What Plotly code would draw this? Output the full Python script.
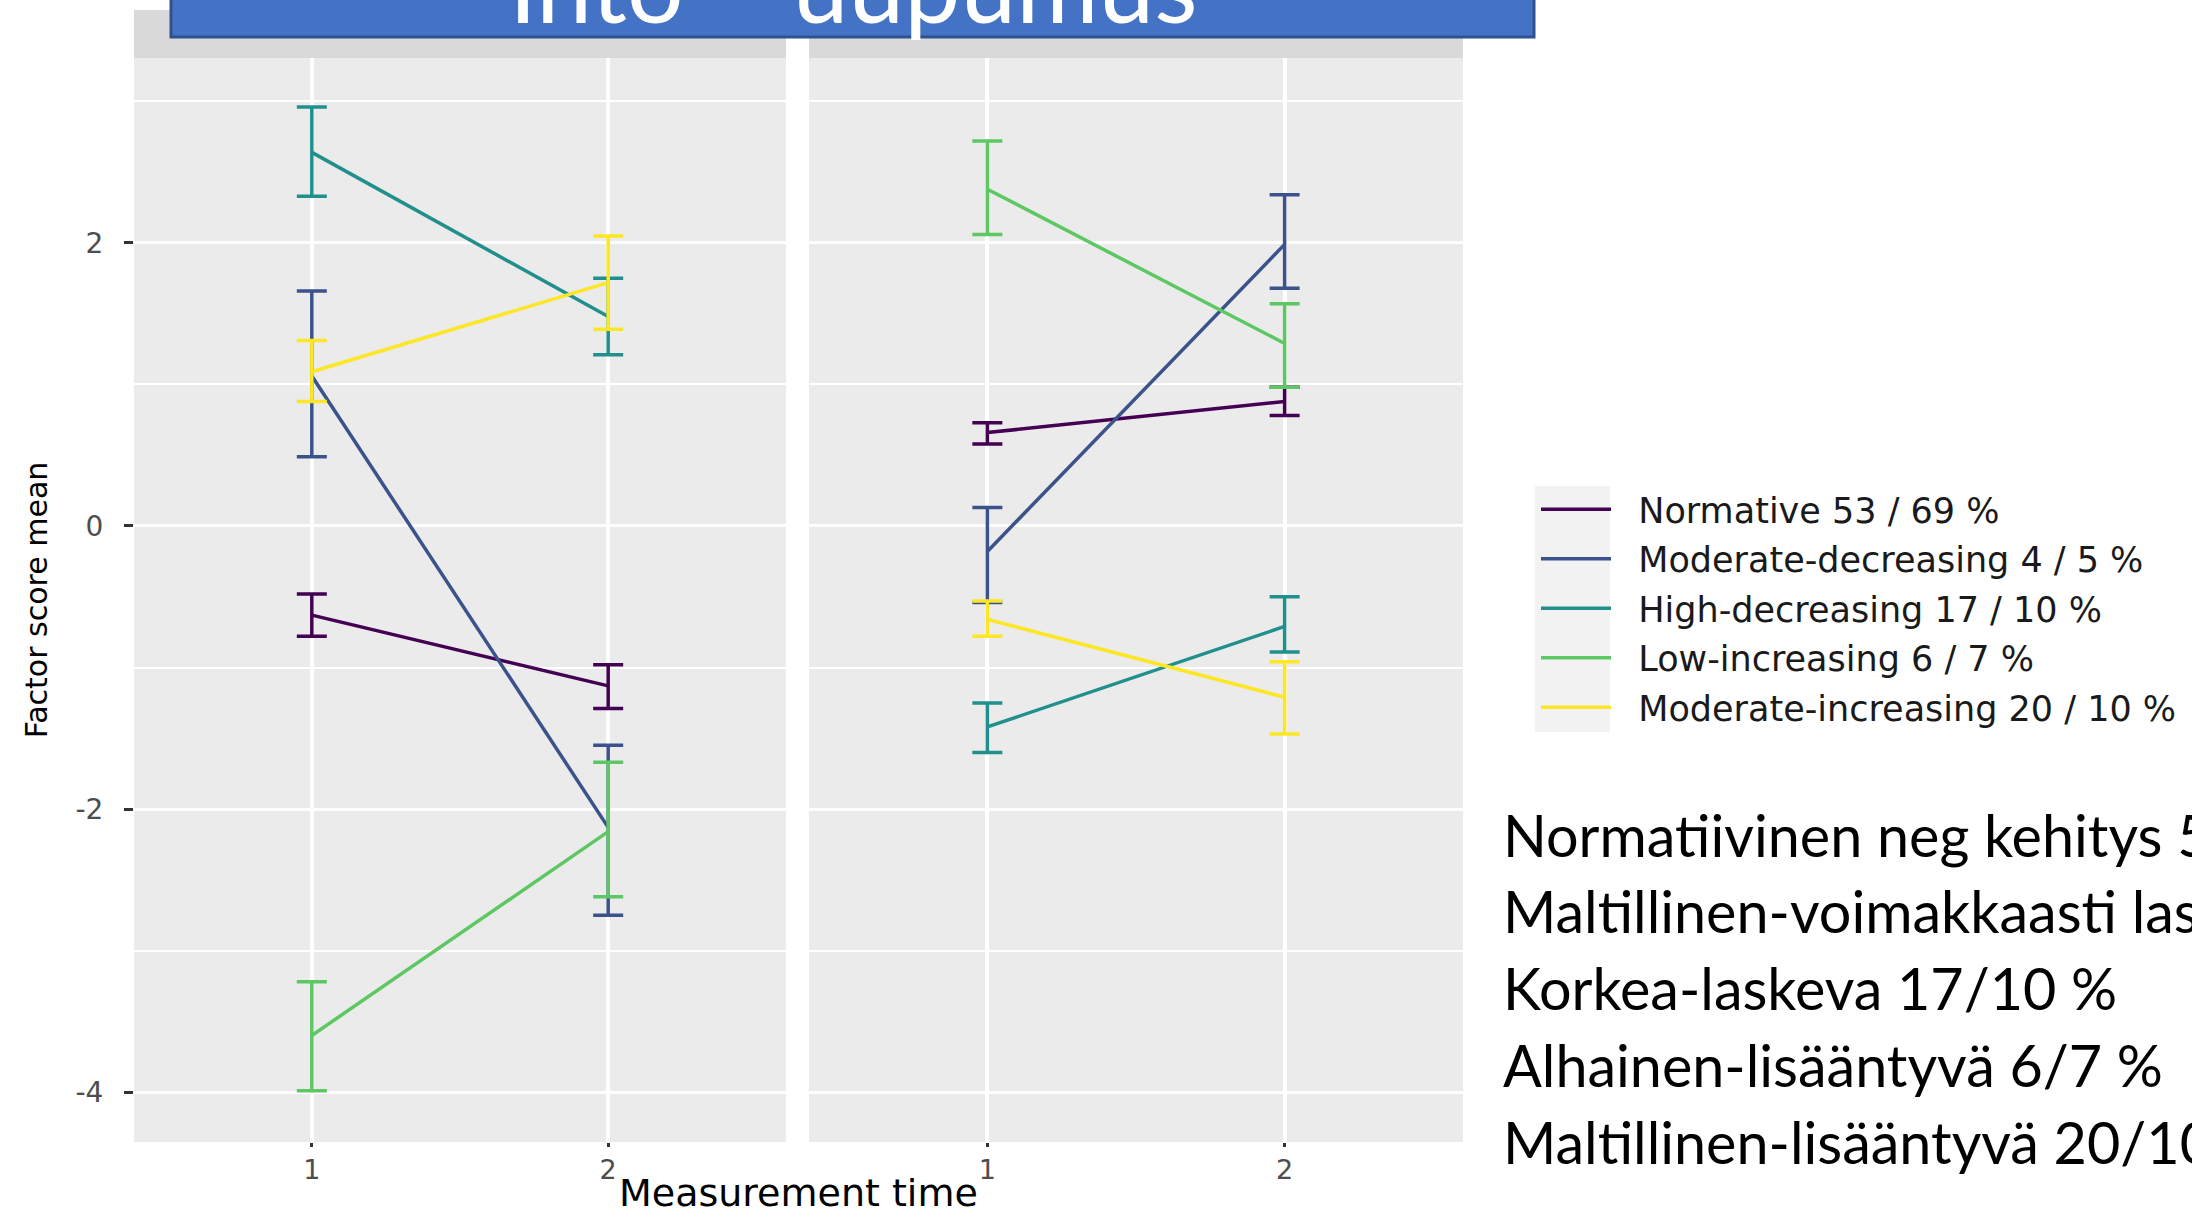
import plotly.graph_objects as go
from plotly.subplots import make_subplots

# ---------------- data ----------------
times = [1, 2]
time_labels = ["1", "2"]
panels = ["Schoolwork engagement", "School burnout"]
groups = [
    "Normative 53 / 69 %",
    "Moderate-decreasing 4 / 5 %",
    "High-decreasing 17 / 10 %",
    "Low-increasing 6 / 7 %",
    "Moderate-increasing 20 / 10 %",
]
colors = ["#440154", "#3B528B", "#21908C", "#5DC863", "#FDE725"]

# Schoolwork engagement: mean, upper and lower limits at time 1 and 2
eng_mean = [[-0.63, -1.13], [1.06, -2.13], [2.64, 1.48], [-3.60, -2.16], [1.09, 1.72]]
eng_upper = [[-0.48, -0.98], [1.66, -1.55], [2.96, 1.75], [-3.22, -1.67], [1.31, 2.05]]
eng_lower = [[-0.78, -1.29], [0.49, -2.75], [2.33, 1.21], [-3.99, -2.62], [0.88, 1.39]]

# School burnout
burn_mean = [[0.66, 0.88], [-0.18, 1.99], [-1.42, -0.71], [2.38, 1.29], [-0.66, -1.21]]
burn_upper = [[0.73, 0.98], [0.13, 2.34], [-1.25, -0.50], [2.72, 1.57], [-0.53, -0.96]]
burn_lower = [[0.58, 0.78], [-0.54, 1.68], [-1.60, -0.89], [2.06, 0.98], [-0.78, -1.47]]

y_ticks = [-4, -2, 0, 2]
y_ticktext = ["-4", "-2", "0", "2"]
slide_title = "Into – uupumus"
notes = [
    "Normatiivinen neg kehitys 53/69 %",
    "Maltillinen-voimakkaasti laskeva 4/5 %",
    "Korkea-laskeva 17/10 %",
    "Alhainen-lisääntyvä 6/7 %",
    "Maltillinen-lisääntyvä 20/10 %",
]

# ---------------- geometry ----------------
W, H = 2192, 1218
ML, MR, MT, MB = 134, 729, 58, 76
PW = W - ML - MR
PH = H - MT - MB
Y_RANGE = [-4.353, 3.307]
X_RANGE = [0.4, 2.6]


def px_x(px):
    return (px - ML) / PW


def px_y(py):
    return (H - MB - py) / PH


def val_from_py(py):
    return Y_RANGE[1] + (MT - py) / PH * (Y_RANGE[1] - Y_RANGE[0])


fig = make_subplots(rows=1, cols=2, shared_yaxes=True, horizontal_spacing=0.0173)

TXT = "DejaVu Sans"
KEY_GAP = "\u00a0\u00a0"  # space between legend key and label, as in the reference

datasets = [(eng_mean, eng_upper, eng_lower), (burn_mean, burn_upper, burn_lower)]
for col, (mean, up, lo) in enumerate(datasets, start=1):
    for i, g in enumerate(groups):
        m = mean[i]
        plus = [u - v for u, v in zip(up[i], m)]
        minus = [v - l for v, l in zip(m, lo[i])]
        fig.add_trace(
            go.Scatter(
                x=times, y=m, mode="lines", name=KEY_GAP + g,
                legendgroup=g, showlegend=(col == 1),
                line=dict(color=colors[i], width=3.5),
                error_y=dict(type="data", symmetric=False, array=plus, arrayminus=minus,
                             color=colors[i], thickness=3.5, width=15),
            ),
            row=1, col=col,
        )

# strip labels (drawn as text traces so that the slide title box can cover them)
strip_y = val_from_py(33)
for col, p in enumerate(panels, start=1):
    fig.add_trace(
        go.Scatter(x=[1.5], y=[strip_y], mode="text", text=[p], showlegend=False,
                   textfont=dict(family=TXT, size=36, color="#1A1A1A"),
                   cliponaxis=False, hoverinfo="skip"),
        row=1, col=col,
    )

axis_common = dict(range=X_RANGE, tickvals=times, ticktext=time_labels, ticks="outside",
                   ticklen=4, tickwidth=3, tickcolor="#333333", automargin=False,
                   tickfont=dict(family=TXT, size=27, color="#4D4D4D"),
                   showgrid=True, gridcolor="white", gridwidth=4,
                   zeroline=False, showline=False)
fig.update_xaxes(**axis_common)
fig.update_layout(xaxis=dict(domain=[0, px_x(786)]), xaxis2=dict(domain=[px_x(809), 1]))

fig.update_yaxes(range=Y_RANGE, tickvals=y_ticks, ticktext=y_ticktext, showgrid=True,
                 gridcolor="white", gridwidth=3, zeroline=False, showline=False, automargin=False,
                 minor=dict(dtick=1, tick0=0, showgrid=True, gridcolor="white", gridwidth=1.5))
fig.update_yaxes(ticks="outside", ticklen=9, tickwidth=3, tickcolor="#333333",
                 tickfont=dict(family=TXT, size=28, color="#4D4D4D"),
                 ticklabelstandoff=15,
                 title=dict(text="Factor score mean", font=dict(family=TXT, size=30, color="#000000"),
                            standoff=18),
                 row=1, col=1)
fig.update_yaxes(showticklabels=False, ticks="", row=1, col=2)

shapes = []
# strip backgrounds
for x0, x1 in [(134, 786), (809, 1463)]:
    shapes.append(dict(type="rect", xref="paper", yref="paper", x0=px_x(x0), x1=px_x(x1),
                       y0=1, y1=px_y(10), fillcolor="#D9D9D9", line=dict(width=0), layer="below"))
# legend key background
shapes.append(dict(type="rect", xref="paper", yref="paper", x0=px_x(1535), x1=px_x(1610),
                   y0=px_y(732), y1=px_y(486), fillcolor="#F2F2F2", line=dict(width=0), layer="below"))
# slide title box
shapes.append(dict(type="rect", xref="paper", yref="paper", x0=px_x(171), x1=px_x(1534),
                   y0=px_y(37), y1=px_y(-60), fillcolor="#4472C4",
                   line=dict(color="#2F528F", width=3), layer="above"))

annotations = [
    dict(text=slide_title, xref="paper", yref="paper", x=px_x(853), y=px_y(46),
         xanchor="center", yanchor="bottom", showarrow=False,
         font=dict(family="Lato", size=100, color="white")),
    dict(text="Measurement time", xref="paper", yref="paper", x=px_x(798), y=px_y(1217),
         xanchor="center", yanchor="bottom", showarrow=False,
         font=dict(family=TXT, size=38, color="#000000")),
]
note_y = [834, 911, 987, 1064, 1141]
for t, yy in zip(notes, note_y):
    annotations.append(dict(text=t, xref="paper", yref="paper", x=px_x(1501), y=px_y(yy),
                            xanchor="left", yanchor="middle", showarrow=False,
                            font=dict(family="Lato", size=57.5, color="#000000")))

fig.update_layout(
    width=W, height=H,
    margin=dict(l=ML, r=MR, t=MT, b=MB, autoexpand=False),
    paper_bgcolor="white", plot_bgcolor="#EBEBEB",
    shapes=shapes, annotations=annotations,
    showlegend=True,
    legend=dict(x=px_x(1536), xanchor="left", y=px_y(480), yanchor="top",
                bgcolor="rgba(0,0,0,0)", itemwidth=70, tracegroupgap=1,
                font=dict(family=TXT, size=35, color="#1A1A1A")),
)

fig.write_html("out.html")
